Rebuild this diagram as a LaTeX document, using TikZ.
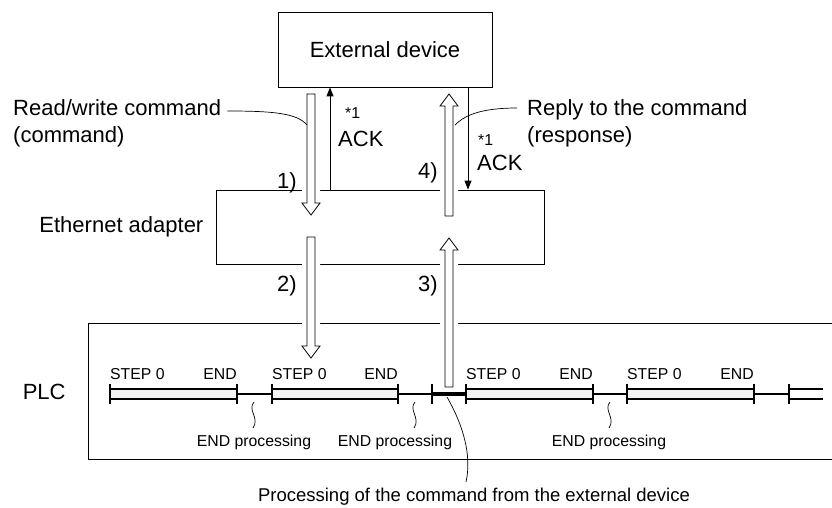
\documentclass[tikz,border=0pt]{standalone}
\usepackage{fontspec}
\setmainfont{Liberation Sans}
\usetikzlibrary{arrows.meta,positioning,calc}

\begin{document}
\begin{tikzpicture}[x=1pt,y=-1pt,
    box/.style={draw,line width=0.9pt,inner sep=0},
    big/.style={font=\fontsize{22}{27}\selectfont,inner sep=0},
    mid/.style={font=\fontsize{18.5}{22}\selectfont,inner sep=0},
    small/.style={font=\fontsize{15.8}{19}\selectfont,inner sep=0},
    hollow/.style={draw,fill=white,line width=0.8pt,
      preaction={draw=white,line width=10pt,line join=round},
      to path={let \p1=(\tikztostart),\p2=(\tikztotarget),
        \p3=($(\tikztotarget)!12pt!(\tikztostart)$) in
        (\x1-4pt,\y1) -- (\x1-4pt,\y3) -- (\x1-9pt,\y3) -- (\x2,\y2)
        -- (\x1+9pt,\y3) -- (\x1+4pt,\y3) -- (\x1+4pt,\y1) -- cycle}},
    ack/.style={-{Triangle[length=9pt,width=7pt]},line width=1pt},
    lead/.style={line width=0.7pt},
    bar/.style={line width=1.1pt,fill=black!5},
    tick/.style={line width=1.8pt}]
  \useasboundingbox (0,0) rectangle (832,507);

  % boxes
  \node[box,big,minimum width=214pt,minimum height=75pt] (ext) at (385,49.5) {External device};
  \node[box,minimum width=328pt,minimum height=74pt] (eth) at (380,227) {};
  \node[minimum width=743pt,minimum height=135pt,inner sep=0] (plc) at (460.5,391.5) {};
  \draw[line width=0.9pt] (plc.north east) -| (plc.south west) -- (plc.south east);
  \node[big,left=12pt of eth] (ethlbl) {Ethernet adapter};
  \node[big,left=23pt of plc] (plclbl) {PLC};

  % hollow arrows 1) to 4)
  \coordinate (aS) at (311,94);  \coordinate (aE) at (311,215);
  \coordinate (bS) at (311,237); \coordinate (bE) at (311,358);
  \coordinate (cS) at (449,387); \coordinate (cE) at (449,238);
  \coordinate (dS) at (449,216); \coordinate (dE) at (449,94);
  \draw[hollow] (aS) to (aE);
  \draw[hollow] (bS) to (bE);
  \draw[hollow] (cS) to (cE);
  \draw[hollow] (dS) to (dE);
  \node[big,anchor=base east] (n1) at (297,188) {1)};
  \node[big,anchor=base east] (n2) at (297,291) {2)};
  \node[big,anchor=base east] (n3) at (438,291) {3)};
  \node[big,anchor=base east] (n4) at (438,178) {4)};

  % ACK
  \coordinate (ack1) at (330,0);
  \coordinate (ack2) at (468,0);
  \draw[ack] (eth.north -| ack1) -- (ext.south -| ack1);
  \draw[ack] (ext.south -| ack2) -- (eth.north -| ack2);
  \node[small,anchor=base west] (star1) at (345,118) {*1};
  \node[big,anchor=base west] (ackA) at (338,146) {ACK};
  \node[small,anchor=base west] (star2) at (478,145) {*1};
  \node[big,anchor=base west] (ackB) at (477,170) {ACK};

  % command / response
  \node[big,align=left,anchor=north west] (rw) at (13,99) {Read/write command\\(command)};
  \node[big,align=left,anchor=north west] (reply) at (527,99) {Reply to the command\\(response)};
  \coordinate (rwend) at (307,125);
  \coordinate (rpend) at (455,125);
  \draw[lead] ([shift={(6,12)}]rw.north east) .. controls +(45,0) and +(-10,-12) .. (rwend);
  \draw[lead] ([shift={(-10,9)}]reply.north west) .. controls +(-40,0) and +(8,-8) .. (rpend);

  % scan time line
  \foreach \s/\e [count=\i] in {110/237,272/398,466/593,627/754}{
    \draw[bar] (\s,389) rectangle (\e,399);
    \draw[tick] (\s,384) -- (\s,404);
    \draw[tick] (\e,384) -- (\e,404);
    \node[small,anchor=base west] (step\i) at (\s,379) {STEP 0};
    \node[small,anchor=base east] (end\i) at (\e,379) {END};
  }
  \foreach \s/\e in {237/272,398/432,593/627,754/789}
    \draw[line width=1.2pt] (\s,394) -- (\e,394);
  \draw[line width=3.5pt] (432,394) -- (466,394);
  \draw[tick] (432,384) -- (432,404);
  \draw[tick] (789,384) -- (789,404);
  \draw[line width=1.1pt] (789,389) -- (823,389) (789,399) -- (823,399);

  \foreach \x/\lx [count=\i] in {254/254,415/395,610/609}{
    \draw[lead] (\x,402) .. controls (\x-7,410) and (\x+6,418) .. (\x-1,428);
    \node[small,anchor=base] (endp\i) at (\lx,446) {END processing};
  }

  \node[mid,anchor=base] (proc) at (474,501) {Processing of the command from the external device};
  \coordinate (procS) at (447,397);
  \draw[lead] (procS) .. controls (463,425) and (472,455) .. (466,482);
\end{tikzpicture}
\end{document}
